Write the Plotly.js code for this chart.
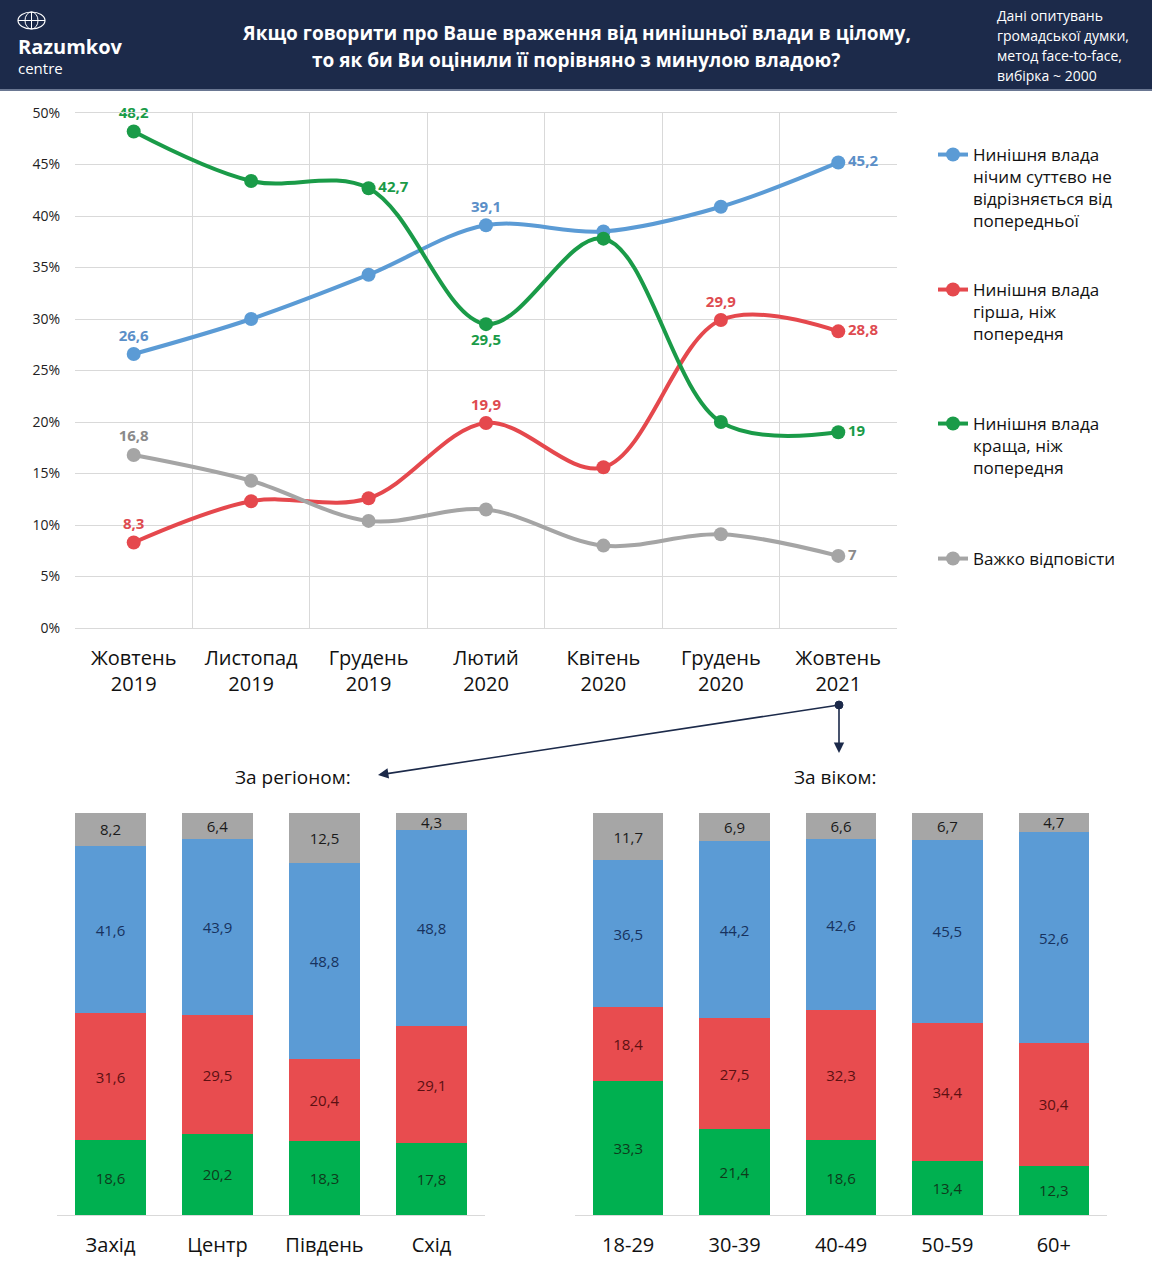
<!DOCTYPE html>
<html>
<head>
<meta charset="utf-8">
<script src="https://cdn.plot.ly/plotly-3.0.1.min.js"></script>
<style>html,body{margin:0;padding:0;background:#fff;}#chart{width:1152px;height:1280px;}</style>
</head>
<body>
<div id="chart"></div>
<script>
// ---- Line chart data ----
const months = ["Жовтень<br>2019", "Листопад<br>2019", "Грудень<br>2019", "Лютий<br>2020", "Квітень<br>2020", "Грудень<br>2020", "Жовтень<br>2021"];
const seriesSame   = [26.6, 30.0, 34.3, 39.1, 38.5, 40.9, 45.2];
const seriesWorse  = [8.3, 12.3, 12.6, 19.9, 15.6, 29.9, 28.8];
const seriesBetter = [48.2, 43.4, 42.7, 29.5, 37.8, 20.0, 19];
const seriesHard   = [16.8, 14.3, 10.4, 11.5, 8.0, 9.1, 7];
const seriesNames = [
  "Нинішня влада<br>нічим суттєво не<br>відрізняється від<br>попередньої",
  "Нинішня влада<br>гірша, ніж<br>попередня",
  "Нинішня влада<br>краща, ніж<br>попередня",
  "Важко відповісти"
];
const yTickVals = [0, 5, 10, 15, 20, 25, 30, 35, 40, 45, 50];

// ---- Bars by region ----
const regions = ["Захід", "Центр", "Південь", "Схід"];
const regionBetter = [18.6, 20.2, 18.3, 17.8];
const regionWorse  = [31.6, 29.5, 20.4, 29.1];
const regionSame   = [41.6, 43.9, 48.8, 48.8];
const regionHard   = [8.2, 6.4, 12.5, 4.3];

// ---- Bars by age ----
const ages = ["18-29", "30-39", "40-49", "50-59", "60+"];
const ageBetter = [33.3, 21.4, 18.6, 13.4, 12.3];
const ageWorse  = [18.4, 27.5, 32.3, 34.4, 30.4];
const ageSame   = [36.5, 44.2, 42.6, 45.5, 52.6];
const ageHard   = [11.7, 6.9, 6.6, 6.7, 4.7];

// ---- Header texts ----
const titleLines = ["Якщо говорити про Ваше враження від нинішньої влади в цілому,",
                    "то як би Ви оцінили її порівняно з минулою владою?"];
const noteLines = ["Дані опитувань", "громадської думки,", "метод face-to-face,", "вибірка ~ 2000"];

const W = 1152, H = 1280;
const px = v => v / W;
const py = v => 1 - v / H;
const fmt = v => String(v).replace('.', ',');
const FONT = "Open Sans, Noto Sans, DejaVu Sans, sans-serif";

const C = {blue: "#5b9bd5", red: "#e5484d", green: "#1a9b48", gray: "#a5a5a5",
           blueT: "#5b8fc8", redT: "#de4b50", greenT: "#1a9b48", grayT: "#8a8a8a"};
const BC = {blue: "#5b9bd5", red: "#e84c4f", green: "#00b050", gray: "#a6a6a6"};

function lineTrace(vals, name, color, tcolor, show, pos, legendId) {
  return {
    type: "scatter", mode: "lines+markers+text",
    x: months, y: vals, name: name,
    xaxis: "x", yaxis: "y",
    legend: legendId,
    line: {color: color, width: 4, shape: "spline", smoothing: 1},
    marker: {color: color, size: 14},
    text: vals.map((v, i) => show[i] ? fmt(v) : ""),
    textposition: pos,
    textfont: {family: FONT, size: 15, color: tcolor, weight: "bold"},
    cliponaxis: false,
    hoverinfo: "x+y"
  };
}

const TC = "top center", MR = "middle right", BCn = "bottom center";
const traces = [
  lineTrace(seriesSame, seriesNames[0], C.blue, C.blueT,
    [1,0,0,1,0,0,1], [TC,TC,TC,TC,TC,TC,MR], "legend"),
  lineTrace(seriesWorse, seriesNames[1], C.red, C.redT,
    [1,0,0,1,0,1,1], [TC,TC,TC,TC,TC,TC,MR], "legend2"),
  lineTrace(seriesBetter, seriesNames[2], C.green, C.greenT,
    [1,0,1,1,0,0,1], [TC,TC,MR,BCn,TC,TC,MR], "legend3"),
  lineTrace(seriesHard, seriesNames[3], C.gray, C.grayT,
    [1,0,0,0,0,0,1], [TC,TC,TC,TC,TC,TC,MR], "legend4")
];

function barTrace(cats, vals, color, tcolor, xa, ya) {
  return {
    type: "bar", x: cats, y: vals, xaxis: xa, yaxis: ya,
    marker: {color: color, line: {width: 0}},
    text: vals.map(fmt), textposition: "inside", insidetextanchor: "middle",
    textangle: 0, constraintext: "none",
    textfont: {family: FONT, size: 15, color: tcolor},
    showlegend: false, hoverinfo: "x+y"
  };
}
traces.push(
  barTrace(regions, regionBetter, BC.green, "#0e3b1c", "x2", "y2"),
  barTrace(regions, regionWorse, BC.red, "#5c1012", "x2", "y2"),
  barTrace(regions, regionSame, BC.blue, "#17325e", "x2", "y2"),
  barTrace(regions, regionHard, BC.gray, "#1a1a1a", "x2", "y2"),
  barTrace(ages, ageBetter, BC.green, "#0e3b1c", "x3", "y3"),
  barTrace(ages, ageWorse, BC.red, "#5c1012", "x3", "y3"),
  barTrace(ages, ageSame, BC.blue, "#17325e", "x3", "y3"),
  barTrace(ages, ageHard, BC.gray, "#1a1a1a", "x3", "y3")
);

const legendBase = {
  xanchor: "left", yanchor: "top", valign: "top",
  bgcolor: "rgba(0,0,0,0)", borderwidth: 0,
  font: {family: FONT, size: 17, color: "#111"}, itemwidth: 30
};
const LX = px(933);

const navy = "#1c2a4a";
const hdrAnn = (x, y, text, size, anchor) => ({
  xref: "paper", yref: "paper", x: px(x), y: py(y), xanchor: anchor, yanchor: "middle",
  text: text, showarrow: false, font: {family: FONT, size: size, color: "#fff"}
});

const annotations = [
  Object.assign(hdrAnn(16, 56, "<span style='font-size:20px'><b>Razumkov</b></span><br>centre", 15, "left"), {align: "left"}),
  hdrAnn(576, 33, "<b>" + titleLines[0] + "</b>", 19, "center"),
  hdrAnn(576, 60, "<b>" + titleLines[1] + "</b>", 19, "center")
];
noteLines.forEach((t, i) => annotations.push(hdrAnn(995, 15 + i * 20.3, t, 14, "left")));
annotations.push(
  {xref: "paper", yref: "paper", x: px(293), y: py(777), xanchor: "center", yanchor: "middle",
   text: "За регіоном:", showarrow: false, font: {family: FONT, size: 19, color: "#111"}},
  {xref: "paper", yref: "paper", x: px(835), y: py(777), xanchor: "center", yanchor: "middle",
   text: "За віком:", showarrow: false, font: {family: FONT, size: 19, color: "#111"}},
  {xref: "paper", yref: "paper", x: px(378), y: py(775), text: "", showarrow: true,
   ax: 461, ay: -70, axref: "pixel", ayref: "pixel", arrowhead: 2, arrowsize: 1.3, arrowwidth: 1.6,
   arrowcolor: navy, standoff: 0, startstandoff: 0},
  {xref: "paper", yref: "paper", x: px(839), y: py(753), text: "", showarrow: true,
   ax: 0, ay: -48, axref: "pixel", ayref: "pixel", arrowhead: 2, arrowsize: 1.3, arrowwidth: 1.6,
   arrowcolor: navy, standoff: 0, startstandoff: 0}
);

const layout = {
  width: W, height: H,
  margin: {l: 0, r: 0, t: 0, b: 0},
  paper_bgcolor: "#fff", plot_bgcolor: "#fff",
  separators: ", ",
  font: {family: FONT, color: "#111"},
  barmode: "stack",
  bargap: 0.34,
  showlegend: true,
  legend:  Object.assign({}, legendBase, {x: LX, y: py(137)}),
  legend2: Object.assign({}, legendBase, {x: LX, y: py(272)}),
  legend3: Object.assign({}, legendBase, {x: LX, y: py(406)}),
  legend4: Object.assign({}, legendBase, {x: LX, y: py(541)}),
  xaxis: {
    domain: [px(75), px(897)], anchor: "y", type: "category", range: [-0.5, 6.5],
    tickson: "boundaries", showgrid: true, gridcolor: "#d9d9d9", gridwidth: 1,
    showline: true, linecolor: "#d9d9d9", mirror: true, ticks: "",
    tickfont: {family: FONT, size: 20, color: "#111"},
    ticklabelstandoff: 12, zeroline: false, fixedrange: true
  },
  yaxis: {
    domain: [py(628), py(113)], anchor: "x", range: [0, 50],
    tickvals: yTickVals, ticktext: yTickVals.map(v => v + "%"),
    showgrid: true, gridcolor: "#d9d9d9", gridwidth: 1, zeroline: false,
    tickfont: {family: FONT, size: 14, color: "#222"},
    ticklabelstandoff: 14, fixedrange: true
  },
  xaxis2: {
    domain: [px(57), px(485)], anchor: "y2", type: "category",
    showline: true, linecolor: "#d9d9d9", linewidth: 1, showgrid: false, ticks: "",
    tickfont: {family: FONT, size: 20, color: "#111"}, ticklabelstandoff: 12, fixedrange: true
  },
  yaxis2: {
    domain: [py(1215), py(813)], anchor: "x2", range: [0, 100],
    visible: false, showgrid: false, zeroline: false, fixedrange: true
  },
  xaxis3: {
    domain: [px(575), px(1107)], anchor: "y3", type: "category",
    showline: true, linecolor: "#d9d9d9", linewidth: 1, showgrid: false, ticks: "",
    tickfont: {family: FONT, size: 20, color: "#111"}, ticklabelstandoff: 12, fixedrange: true
  },
  yaxis3: {
    domain: [py(1215), py(813)], anchor: "x3", range: [0, 100],
    visible: false, showgrid: false, zeroline: false, fixedrange: true
  },
  shapes: [
    {type: "rect", xref: "paper", yref: "paper", x0: 0, x1: 1, y0: py(90), y1: 1,
     fillcolor: navy, line: {width: 0}, layer: "below"},
    {type: "line", xref: "paper", yref: "paper", x0: 0, x1: 1, y0: py(90), y1: py(90),
     line: {color: "#6a7792", width: 2}},
    // globe logo
    {type: "circle", xref: "paper", yref: "paper", x0: px(18), x1: px(45), y0: py(29), y1: py(12),
     line: {color: "#fff", width: 1.2}},
    {type: "circle", xref: "paper", yref: "paper", x0: px(25), x1: px(38), y0: py(29), y1: py(12),
     line: {color: "#fff", width: 1}},
    {type: "line", xref: "paper", yref: "paper", x0: px(31.5), x1: px(31.5), y0: py(29), y1: py(12),
     line: {color: "#fff", width: 1}},
    {type: "line", xref: "paper", yref: "paper", x0: px(18), x1: px(45), y0: py(20.5), y1: py(20.5),
     line: {color: "#fff", width: 1}},
    // dot at start of arrows
    {type: "circle", xref: "paper", yref: "paper", x0: px(835), x1: px(843), y0: py(709), y1: py(701),
     fillcolor: navy, line: {color: navy, width: 1}}
  ],
  annotations: annotations
};

Plotly.newPlot("chart", traces, layout, {displayModeBar: false, staticPlot: true});
</script>
</body>
</html>
